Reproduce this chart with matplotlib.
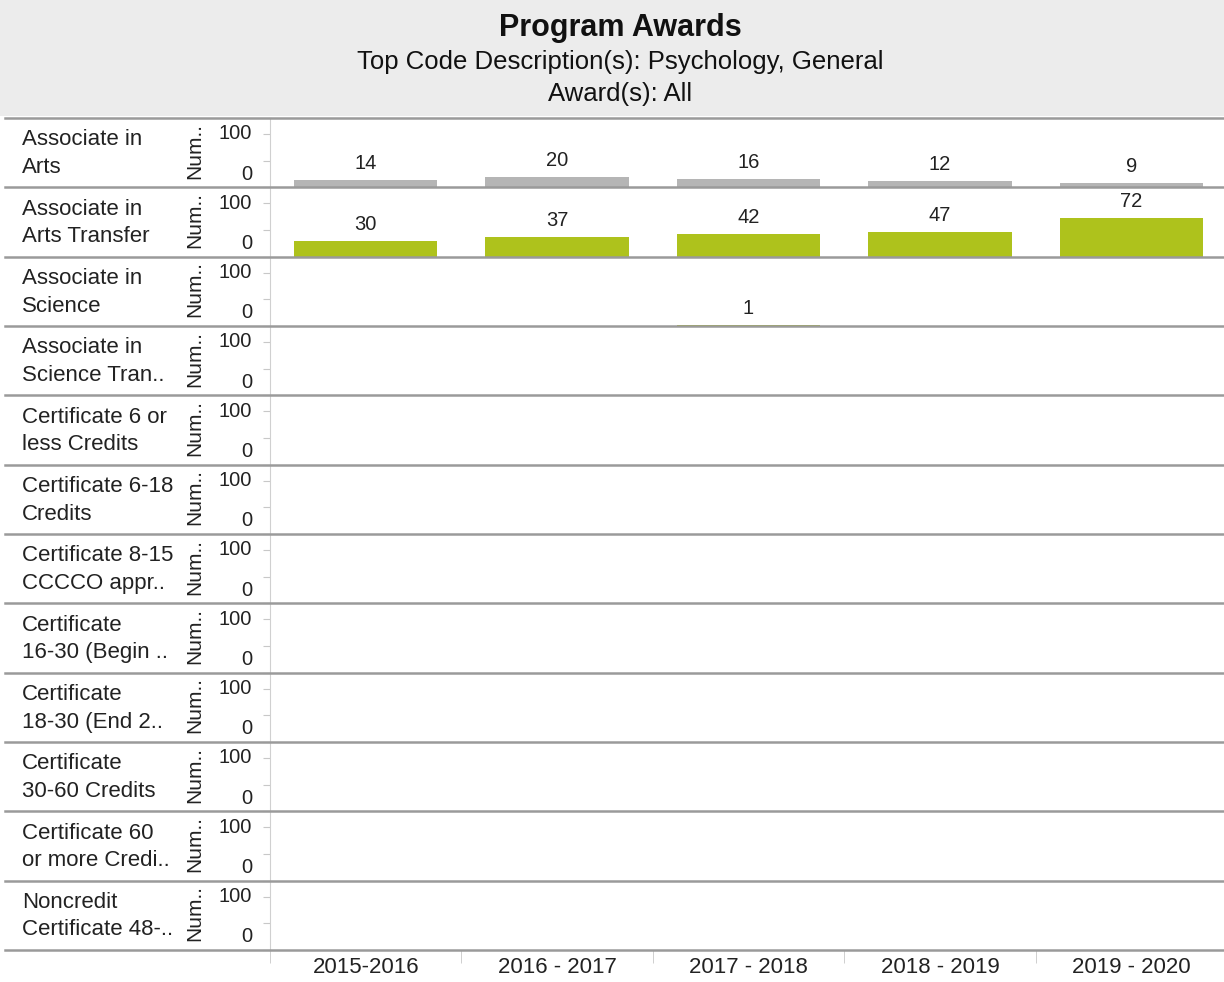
import matplotlib
matplotlib.use("Agg")
import matplotlib.pyplot as plt
from matplotlib.patches import Rectangle
from matplotlib.lines import Line2D

plt.rcParams['font.family'] = ['Liberation Sans', 'DejaVu Sans']

years = ["2015-2016", "2016 - 2017", "2017 - 2018", "2018 - 2019", "2019 - 2020"]

award_types = [
    "Associate in\nArts",
    "Associate in\nArts Transfer",
    "Associate in\nScience",
    "Associate in\nScience Tran..",
    "Certificate 6 or\nless Credits",
    "Certificate 6-18\nCredits",
    "Certificate 8-15\nCCCCO appr..",
    "Certificate\n16-30 (Begin ..",
    "Certificate\n18-30 (End 2..",
    "Certificate\n30-60 Credits",
    "Certificate 60\nor more Credi..",
    "Noncredit\nCertificate 48-..",
]

# awards per year for each award type (None = no awards reported)
assoc_arts = [14, 20, 16, 12, 9]
assoc_arts_transfer = [30, 37, 42, 47, 72]
assoc_science = [None, None, 1, None, None]
empty = [None] * 5

counts = [assoc_arts, assoc_arts_transfer, assoc_science] + [empty] * 9
bar_colors = ["#b5b5b5", "#aec21c"] + ["#aec21c"] * 10

W, H = 1224, 982
fig = plt.figure(figsize=(W / 100, H / 100), dpi=100)

def fx(px):
    return px / W

def fy(py):
    return 1 - py / H

# header band
fig.patches.append(Rectangle((0, fy(116)), 1, 116 / H, transform=fig.transFigure,
                             facecolor="#ececec", edgecolor="none", zorder=0))
fig.text(fx(620), fy(28), "Program Awards", ha="center", va="center",
         fontsize=22, fontweight="bold", color="#111111")
fig.text(fx(620), fy(62), "Top Code Description(s): Psychology, General",
         ha="center", va="center", fontsize=18.5, color="#111111")
fig.text(fx(620), fy(94), "Award(s): All", ha="center", va="center",
         fontsize=18.5, color="#111111")

top = 118
row_h = 69.33
left, right = 270, 1227
x = list(range(len(years)))

for i, (name, vals) in enumerate(zip(award_types, counts)):
    y0 = top + i * row_h
    ax = fig.add_axes([fx(left), fy(y0 + row_h), fx(right - left), row_h / H])
    ax.set_xlim(-0.5, len(years) - 0.5)
    ax.set_ylim(0, 130)

    xs = [xi for xi, v in zip(x, vals) if v is not None]
    vs = [v for v in vals if v is not None]
    ax.bar(xs, vs, width=0.75, color=bar_colors[i], zorder=2)
    for xi, v in zip(xs, vs):
        ax.annotate(str(v), xy=(xi, v), xytext=(0, 7), textcoords="offset pixels",
                    ha="center", va="bottom", fontsize=14.5, color="#222222")

    for s in ("top", "right", "bottom"):
        ax.spines[s].set_visible(False)
    ax.spines["left"].set_color("#d0d0d0")

    ax.set_yticks([0, 50, 100])
    ax.set_yticklabels([])
    ax.tick_params(axis="y", length=5, color="#c8c8c8")
    ytr = ax.get_yaxis_transform()
    ax.annotate("100", xy=(0, 100), xycoords=ytr, xytext=(-18, 0),
                textcoords="offset pixels", ha="right", va="center",
                fontsize=14.5, color="#222222")
    ax.annotate("0", xy=(0, 0), xycoords=ytr, xytext=(-18, 13),
                textcoords="offset pixels", ha="right", va="center",
                fontsize=14.5, color="#222222")

    if i == len(award_types) - 1:
        ax.set_xticks(x)
        ax.set_xticklabels(years, fontsize=16, color="#222222")
        ax.set_xticks([xi - 0.5 for xi in x], minor=True)
        ax.tick_params(axis="x", which="major", length=0, pad=5)
        ax.tick_params(axis="x", which="minor", length=9, color="#c8c8c8")
    else:
        ax.set_xticks([])

    # row label and axis title
    fig.text(fx(22), fy(y0 + row_h / 2 + 1), name, ha="left", va="center",
             fontsize=16, color="#222222", linespacing=1.4)
    fig.text(fx(195), fy(y0 + row_h / 2 - 2), "Num..", ha="center", va="center",
             rotation=90, fontsize=15, color="#222222")

# row separator lines
for i in range(len(award_types) + 1):
    yy = fy(top + i * row_h)
    fig.add_artist(Line2D([fx(5), 1], [yy, yy], color="#9a9a9a", lw=1.8))

fig.savefig("out.png", dpi=100)
